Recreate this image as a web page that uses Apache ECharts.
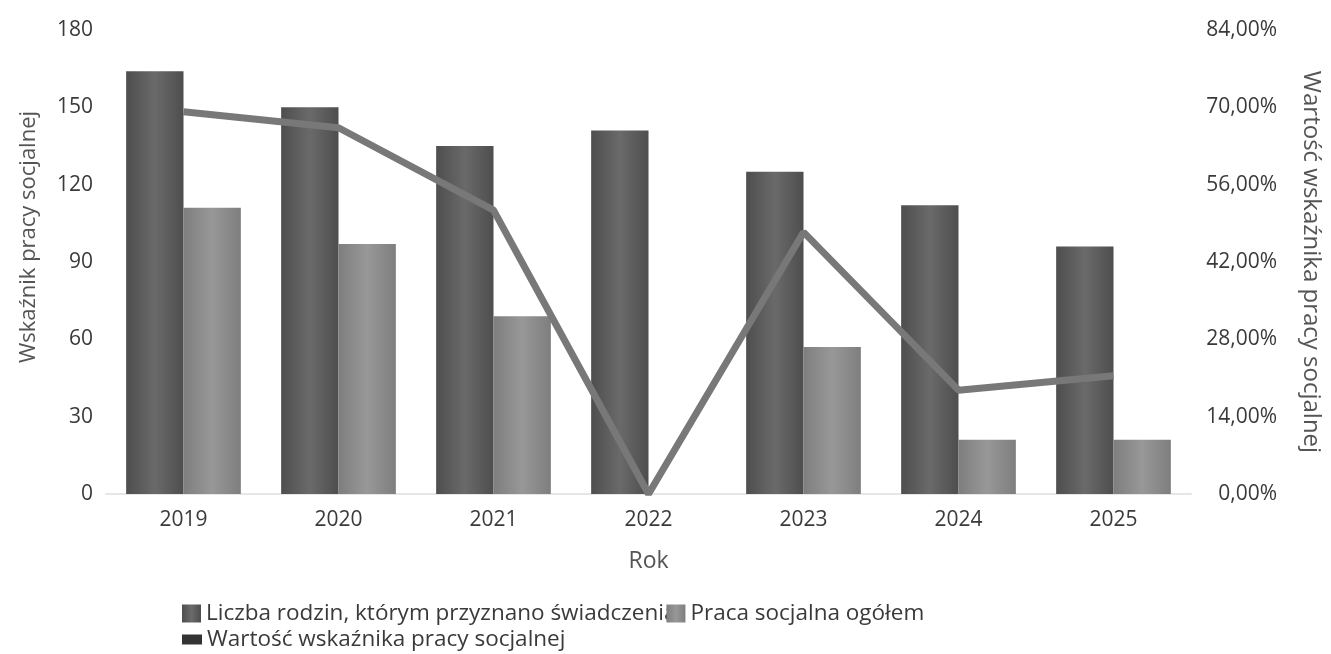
<!DOCTYPE html>
<html>
<head>
<meta charset="utf-8">
<script src="https://cdn.jsdelivr.net/npm/echarts@6/dist/echarts.min.js"></script>
<style>
html,body{margin:0;padding:0;background:#fff;}
#chart{width:1331px;height:654px;}
</style>
</head>
<body>
<div id="chart"></div>
<script>
let years = ["2019","2020","2021","2022","2023","2024","2025"];
let rodziny = [164, 150, 135, 141, 125, 112, 96];
let praca = [111, 97, 69, 0, 57, 21, 21];
let wskaznik = [69.2, 66.3, 51.4, 0, 47.4, 18.8, 21.4];

let names = ["Liczba rodzin, którym przyznano świadczenia", "Praca socjalna ogółem", "Wartość wskaźnika pracy socjalnej"];

let font = "'Open Sans', 'Noto Sans', sans-serif";
let txt = "#3a3a3a";

function barGrad(a, b){
    // lekki efekt walca
    return new echarts.graphic.LinearGradient(0,0,1,0,[
        {offset:0,color:a},{offset:0.5,color:b},{offset:1,color:a}
    ]);
}

let chart = echarts.init(document.getElementById("chart"));
chart.setOption({
    animation:false,
    textStyle:{fontFamily:font},
    grid:{left:106,right:135,top:30,bottom:160},
    legend:[{
        left:177, top:597, itemWidth:19, itemGap:-10, itemHeight:18, icon:"rect",
        data:[names[0],names[1]],
        textStyle:{fontSize:22.5,color:txt,fontFamily:font}
    },{
        left:177, top:623, itemWidth:20, itemHeight:10, icon:"rect",
        data:[names[2]],
        textStyle:{fontSize:22.5,color:txt,fontFamily:font}
    }],
    xAxis:{
        type:"category",
        data:years,
        name:"Rok",
        nameLocation:"middle",
        nameGap:56,
        nameTextStyle:{fontSize:23,color:"#555",fontFamily:font},
        axisLine:{lineStyle:{color:"#e6e6e6",width:2}},
        axisTick:{show:false},
        axisLabel:{fontSize:21,color:txt,margin:16}
    },
    yAxis:[{
        type:"value",
        min:0,max:180,interval:30,
        name:"Wskaźnik pracy socjalnej",
        nameLocation:"middle",
        nameGap:66,
        nameTextStyle:{fontSize:22,color:"#555",fontFamily:font,padding:[0,0,0,50]},
        splitLine:{show:false},
        axisLine:{show:false},
        axisTick:{show:false},
        axisLabel:{fontSize:21,color:txt,margin:13}
    },{
        type:"value",
        min:0,max:84,interval:14,
        name:"Wartość wskaźnika pracy socjalnej",
        nameLocation:"middle",
        nameRotate:-90,
        nameGap:108,
        nameTextStyle:{fontSize:24,color:"#555",fontFamily:font},
        splitLine:{show:false},
        axisLine:{show:false},
        axisTick:{show:false},
        axisLabel:{
            fontSize:21,color:txt,margin:86,align:"right",
            formatter:v=>v.toFixed(2).replace(".",",")+"%"
        }
    }],
    series:[{
        name:names[0],
        type:"bar",
        data:rodziny,
        barGap:"0%",
        barCategoryGap:"26%",
        itemStyle:{color:barGrad("#4e4e4e","#6a6a6a")}
    },{
        name:names[1],
        type:"bar",
        data:praca,
        itemStyle:{color:barGrad("#7e7e7e","#989898")}
    },{
        name:names[2],
        type:"line",
        yAxisIndex:1,
        data:wskaznik,
        symbol:"none",
        lineStyle:{width:7,color:"#787878"},
        itemStyle:{color:"#333333"}
    }]
});
</script>
</body>
</html>
